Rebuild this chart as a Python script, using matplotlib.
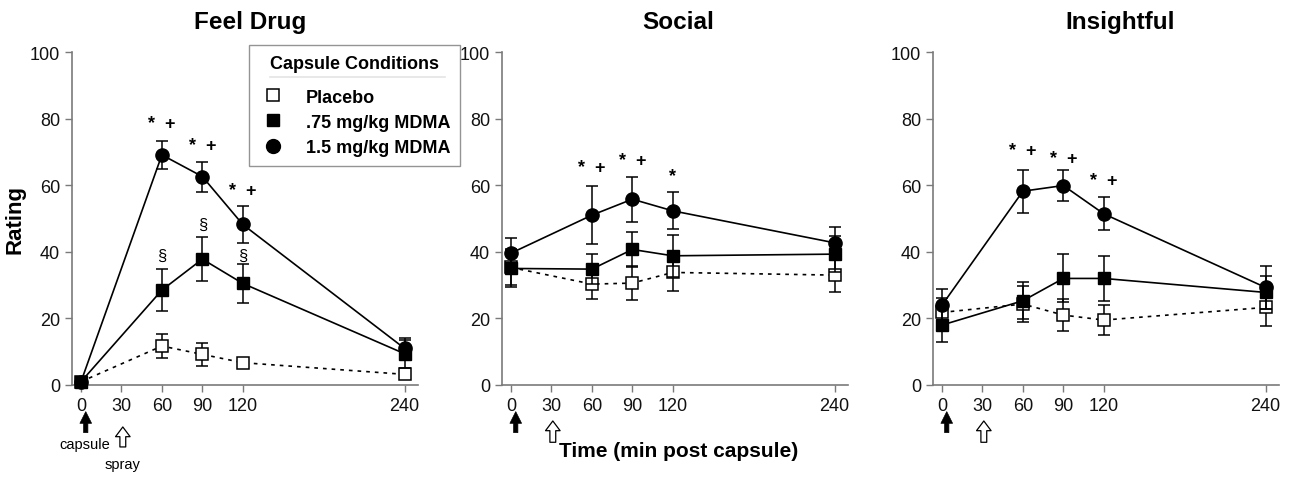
import matplotlib
matplotlib.use("Agg")
import matplotlib.pyplot as plt
from matplotlib.lines import Line2D

plt.rcParams['font.family'] = ['Liberation Sans', 'DejaVu Sans']

# time points (min post capsule)
times = [0, 60, 90, 120, 240]
xticks = [0, 30, 60, 90, 120, 240]

# Feel Drug
feel_pla = [1, 11.7, 9.2, 6.7, 3.2]
feel_pla_err = [0.5, 3.5, 3.5, 0.8, 0.8]
feel_low = [1, 28.5, 37.8, 30.5, 9.4]
feel_low_err = [0.5, 6.2, 6.5, 5.8, 4.2]
feel_high = [1, 69.1, 62.6, 48.2, 11]
feel_high_err = [0.5, 4.2, 4.5, 5.7, 3.2]

# Social
soc_pla = [35.3, 30.3, 30.6, 33.8, 33]
soc_pla_err = [5.3, 4.5, 5.0, 5.6, 5.2]
soc_low = [35, 34.8, 40.7, 38.8, 39.3]
soc_low_err = [5.7, 4.5, 5.3, 6.3, 5.5]
soc_high = [39.6, 51, 55.8, 52.3, 42.7]
soc_high_err = [4.4, 8.8, 6.8, 5.6, 4.7]

# Insightful
ins_pla = [21.8, 24.3, 21, 19.5, 23.3]
ins_pla_err = [4.3, 5.4, 4.7, 4.4, 5.7]
ins_low = [18, 25.3, 32, 32, 27.8]
ins_low_err = [5.1, 5.5, 7.2, 6.8, 5.0]
ins_high = [24, 58.2, 59.9, 51.4, 29.3]
ins_high_err = [4.8, 6.5, 4.7, 5.0, 6.5]

# significance marks: (time, y, text)
feel_marks = [(60, 78.4, '* +'), (90, 72, '* +'), (120, 58.4, '* +')]
feel_sect = [(60, 39, '§'), (90, 48.3, '§'), (120, 39, '§')]
soc_marks = [(60, 65.4, '* +'), (90, 67.4, '* +'), (120, 62.9, '*')]
ins_marks = [(60, 70.4, '* +'), (90, 67.9, '* +'), (120, 61.4, '* +')]

titles = ['Feel Drug', 'Social', 'Insightful']
labels = ['Placebo', '.75 mg/kg MDMA', '1.5 mg/kg MDMA']

panels = [
    (feel_pla, feel_pla_err, feel_low, feel_low_err, feel_high, feel_high_err, feel_marks + feel_sect),
    (soc_pla, soc_pla_err, soc_low, soc_low_err, soc_high, soc_high_err, soc_marks),
    (ins_pla, ins_pla_err, ins_low, ins_low_err, ins_high, ins_high_err, ins_marks),
]

W, H = 1295, 485
fig = plt.figure(figsize=(W / 100, H / 100), dpi=100)
lefts = [72, 502, 933]
title_x = [0.514, 0.509, 0.54]
axw = 346
spine_col = '#7a7a7a'

for i, (pla, pla_e, low, low_e, high, high_e, marks) in enumerate(panels):
    ax = fig.add_axes([lefts[i] / W, 99 / H, axw / W, 333 / H])
    eb = dict(color='black', ecolor='black', elinewidth=1.1, capsize=4.5,
              capthick=1.1, clip_on=False)
    ax.errorbar(times, pla, yerr=pla_e, ls=(0, (2.2, 3)), lw=1.2, marker='s', ms=8.5,
                mfc='white', mec='black', mew=1.1, zorder=3, **eb)
    ax.errorbar(times, low, yerr=low_e, ls='-', lw=1.2, marker='s', ms=9,
                mfc='black', mec='black', zorder=4, **eb)
    ax.errorbar(times, high, yerr=high_e, ls='-', lw=1.2, marker='o', ms=9.5,
                mfc='black', mec='black', zorder=5, **eb)
    for (t, y, s) in marks:
        if s == '§':
            ax.text(t, y, s, ha='center', va='center', fontsize=12)
        else:
            ax.text(t, y, s.replace(' ', '  '), ha='center', va='center', fontsize=13,
                    fontweight='bold')

    ax.set_xlim(-6.7, 250)
    ax.set_ylim(0, 100)
    ax.set_xticks(xticks)
    ax.set_yticks(range(0, 101, 20))
    ax.tick_params(labelsize=13, colors=spine_col, labelcolor='#111111', length=5, width=1)
    for sp in ['top', 'right']:
        ax.spines[sp].set_visible(False)
    for sp in ['left', 'bottom']:
        ax.spines[sp].set_color(spine_col)
        ax.spines[sp].set_linewidth(1.2)
    ax.text(title_x[i], 1.093, titles[i], transform=ax.transAxes, ha='center', va='center',
            fontsize=17.5, fontweight='bold')

    # capsule / spray arrows under the axis
    tr = ax.get_xaxis_transform()
    hy = (-0.126, -0.186) if i == 0 else (-0.108, -0.172)
    ax.annotate('', xy=(3.5, -0.08), xytext=(3.5, -0.143), xycoords=tr, textcoords=tr,
                arrowprops=dict(arrowstyle='simple,head_length=0.6,head_width=0.6,tail_width=0.22',
                                fc='black', ec='black', lw=0.5, mutation_scale=14,
                                shrinkA=0, shrinkB=0), annotation_clip=False)
    ax.annotate('', xy=(31, hy[0]), xytext=(31, hy[1]), xycoords=tr, textcoords=tr,
                arrowprops=dict(arrowstyle='simple,head_length=0.5,head_width=0.75,tail_width=0.3',
                                fc='white', ec='black', lw=0.9, mutation_scale=14,
                                shrinkA=0, shrinkB=0), annotation_clip=False)
    if i == 0:
        ax.text(-0.165, 0.5, 'Rating', transform=ax.transAxes, rotation=90, ha='center',
                va='center', fontsize=16, fontweight='bold')
        ax.text(3, -0.177, 'capsule', transform=tr, ha='center', va='center', fontsize=10.5)
        ax.text(31, -0.237, 'spray', transform=tr, ha='center', va='center', fontsize=10.5)
    if i == 1:
        ax.text(0.51, -0.196, 'Time (min post capsule)', transform=ax.transAxes, ha='center',
                va='center', fontsize=15, fontweight='bold')

handles = [
    Line2D([], [], ls='none', marker='s', ms=9, mfc='white', mec='black', mew=1.1),
    Line2D([], [], ls='none', marker='s', ms=9, mfc='black', mec='black'),
    Line2D([], [], ls='none', marker='o', ms=10, mfc='black', mec='black'),
]
leg = fig.legend(handles, labels, loc='upper left', bbox_to_anchor=(249 / W, 1 - 46 / H),
                 title='Capsule Conditions', frameon=True, fancybox=False,
                 prop={'size': 13, 'weight': 'bold'},
                 title_fontproperties={'size': 13, 'weight': 'bold'},
                 handletextpad=1.0, labelspacing=0.45, borderpad=0.55, handlelength=1.6,
                 borderaxespad=0)
leg.get_frame().set_edgecolor(spine_col)
leg.get_frame().set_linewidth(1.0)
leg._legend_box.sep = 12
fig.add_artist(Line2D([270 / W, 445 / W], [1 - 78 / H, 1 - 78 / H], color=spine_col, lw=1.2))

fig.savefig('out.png', dpi=100)
